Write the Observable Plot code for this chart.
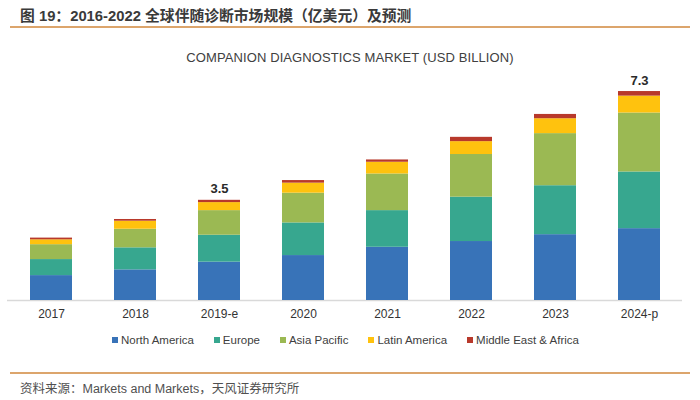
<!DOCTYPE html>
<html>
<head>
<meta charset="utf-8">
<script src="https://cdn.jsdelivr.net/npm/d3@7"></script>
<script src="https://cdn.jsdelivr.net/npm/@observablehq/plot@0.6"></script>
<style>
  body { margin: 0; background: #fff; }
  #wrap { position: relative; width: 700px; height: 400px; overflow: hidden; background: #fff;
          font-family: "Liberation Sans", Arial, "Noto Sans CJK SC", sans-serif; }
  #chart { position: absolute; left: 0; top: 0; }
  .abs { position: absolute; white-space: nowrap; }
  #header { left: 20px; top: 4px; font-size: 14.8px; font-weight: bold; color: #3a3a3a;
            font-family: "Liberation Sans", Arial, "Noto Sans CJK SC", sans-serif; }
  .rule { position: absolute; left: 10px; width: 680px; height: 2px; background: #dca56c; }
  #subtitle { left: 0; width: 700px; top: 50px; text-align: center; font-size: 13px; color: #404040; letter-spacing: 0.1px; }
  #legend { left: 112px; top: 334px; display: flex; gap: 20px; font-size: 11.5px; color: #404040; }
  #legend .item { display: flex; align-items: center; gap: 3px; }
  #legend .sw { width: 6px; height: 6px; display: inline-block; }
  #source { left: 20px; top: 378px; font-size: 12.5px; color: #505050;
            font-family: "Liberation Sans", Arial, "Noto Sans CJK SC", sans-serif; }
</style>
</head>
<body>
<div id="wrap">
  <div id="chart"></div>
  <div class="abs" id="header">图 19：2016-2022 全球伴随诊断市场规模（亿美元）及预测</div>
  <div class="rule" style="top:26px"></div>
  <div class="abs" id="subtitle">COMPANION DIAGNOSTICS MARKET (USD BILLION)</div>
  <div class="abs" id="legend"></div>
  <div class="rule" style="top:372px"></div>
  <div class="abs" id="source">资料来源：Markets and Markets，天风证券研究所</div>
</div>
<script>
const years = ["2017", "2018", "2019-e", "2020", "2021", "2022", "2023", "2024-p"];
const regions = ["North America", "Europe", "Asia Pacific", "Latin America", "Middle East & Africa"];
const colors = ["#3873b8", "#37a78f", "#9bb953", "#ffc20e", "#b8392b"];

const northAmerica = [0.87, 1.07, 1.34, 1.57, 1.86, 2.06, 2.30, 2.51];
const europe       = [0.56, 0.77, 0.94, 1.14, 1.28, 1.55, 1.71, 1.98];
const asiaPacific  = [0.52, 0.65, 0.86, 1.04, 1.28, 1.49, 1.82, 2.06];
const latinAmerica = [0.17, 0.28, 0.28, 0.35, 0.41, 0.45, 0.52, 0.59];
const middleEast   = [0.06, 0.06, 0.08, 0.09, 0.08, 0.15, 0.15, 0.16];

const labelYears  = ["2019-e", "2024-p"];
const labelValues = [3.5, 7.3];

const series = [northAmerica, europe, asiaPacific, latinAmerica, middleEast];
const table = [];
series.forEach((vals, si) => {
  vals.forEach((v, i) => table.push({ year: years[i], region: regions[si], value: v }));
});
const labelTable = labelYears.map((y, i) => ({ year: y, value: labelValues[i] }));

const plot = Plot.plot({
  width: 700,
  height: 400,
  marginTop: 71,
  marginBottom: 100,
  marginLeft: 7,
  marginRight: 18,
  style: { fontFamily: "'Liberation Sans', Arial, sans-serif", fontSize: "12px", color: "#333", background: "transparent" },
  x: { domain: years, paddingInner: 0.5, paddingOuter: 0.25, label: null, tickSize: 0, tickPadding: 9 },
  y: { domain: [0, 8], axis: null },
  color: { domain: regions, range: colors },
  marks: [
    Plot.ruleY([0], { stroke: "#d9d9d9", strokeWidth: 1.5 }),
    Plot.barY(table, { x: "year", y: "value", fill: "region" }),
    Plot.text(labelTable, {
      x: "year", y: "value", text: d => d.value.toFixed(1),
      lineAnchor: "bottom", dy: -7, fontWeight: "bold", fontSize: 13, fill: "#2a2a2a"
    })
  ]
});
document.getElementById("chart").appendChild(plot);

const legend = document.getElementById("legend");
regions.forEach((r, i) => {
  const item = document.createElement("div");
  item.className = "item";
  const sw = document.createElement("span");
  sw.className = "sw";
  sw.style.background = colors[i];
  const t = document.createElement("span");
  t.textContent = r;
  item.appendChild(sw);
  item.appendChild(t);
  legend.appendChild(item);
});
</script>
</body>
</html>
